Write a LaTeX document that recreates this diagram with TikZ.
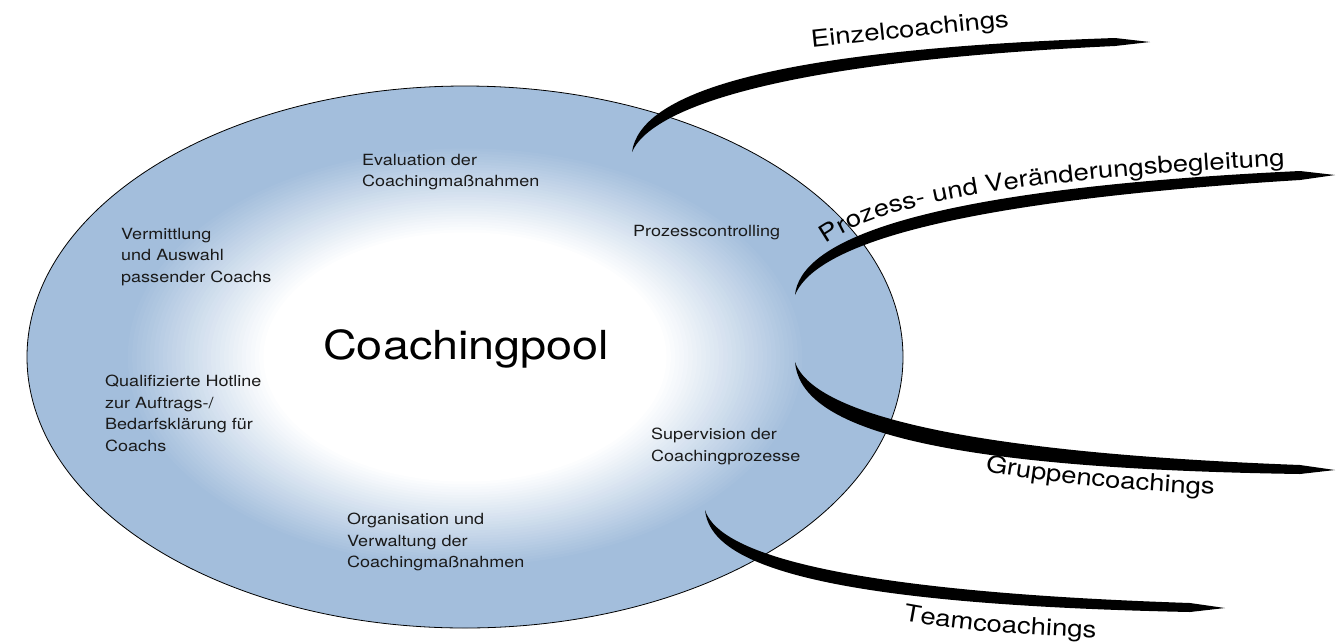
\documentclass[tikz,border=0pt]{standalone}
\usepackage{fontspec}
\usetikzlibrary{decorations.text}
\newfontfamily\hv[FakeStretch=1.17]{TeX Gyre Heros}
\definecolor{poolblue}{HTML}{A3BEDC}
\definecolor{txt}{HTML}{1A1A1A}
\tikzset{
  item/.style={anchor=north west, inner sep=0pt, align=left, text=txt, font=\hv\fontsize{15.4}{21.5}\selectfont},
  arm/.style={fill=black, draw=none},
  armlabel/.style={inner sep=0pt, text=black, font=\hv\fontsize{23.5}{28}\selectfont}
}
\begin{document}
\begin{tikzpicture}[x=1pt,y=-1pt]
\useasboundingbox (0,0) rectangle (1342,641);
% pool with soft radial fade
\fill[poolblue] (465,357) ellipse [x radius=438, y radius=271];
\foreach \i in {0,...,32}{
  \pgfmathsetmacro{\s}{0.78-\i*0.01}
  \pgfmathsetmacro{\p}{100-\i*100/32}
  \fill[poolblue!\p!white] (465,357) ellipse [x radius=438*\s, y radius=271*\s];
}
\draw[line width=0.8pt] (465,357) ellipse [x radius=438, y radius=271];
% arms
\fill[arm] (632,152) .. controls (640,95) and (760,50) .. (1115,38) -- (1150,42) -- (1115,46) .. controls (770,62) and (650,110) .. (632,152) -- cycle;
\fill[arm] (795,295) .. controls (800,245) and (900,190) .. (1300,171) -- (1335,175) -- (1300,180) .. controls (910,204) and (812,254) .. (795,295) -- cycle;
\fill[arm] (795,362) .. controls (808,400) and (900,450) .. (1300,465) -- (1335,470) -- (1300,474) .. controls (900,468) and (800,420) .. (795,362) -- cycle;
\fill[arm] (705,510) .. controls (716,545) and (800,590) .. (1190,603) -- (1225,608) -- (1190,612) .. controls (800,604) and (710,560) .. (705,510) -- cycle;
% arm labels
\node[armlabel, rotate=6] (einzel) at (910,31) {Einzelcoachings};
\path[decorate, decoration={text along path, text align=left, text={|\hv\fontsize{23.5}{28}\selectfont|Prozess- und Veränderungsbegleitung}}] (826,244) .. controls (880,205) and (1000,180) .. (1300,165);
\path[decorate, decoration={text along path, text align=left, text={|\hv\fontsize{23.5}{28}\selectfont|Gruppencoachings}}] (985,471) .. controls (1040,481) and (1120,491) .. (1225,495);
\path[decorate, decoration={text along path, text align=left, text={|\hv\fontsize{23.5}{28}\selectfont|Teamcoachings}}] (903,620) .. controls (950,629) and (1010,635) .. (1100,638);
% items
\node[item] (eval) at (362,154) {Evaluation der\\Coachingmaßnahmen};
\node[item] (verm) at (121,228) {Vermittlung\\und Auswahl\\passender Coachs};
\node[item] (proz) at (633,225) {Prozesscontrolling};
\node[item] (hotl) at (105,375) {Qualifizierte Hotline\\zur Auftrags-/\\Bedarfsklärung für\\Coachs};
\node[item] (orga) at (347,513) {Organisation und\\Verwaltung der\\Coachingmaßnahmen};
\node[item] (supv) at (651,428) {Supervision der\\Coachingprozesse};
\node[anchor=base west, inner sep=0pt, font=\hv\fontsize{40}{48}\selectfont] (pool) at (323,359) {Coachingpool};
\end{tikzpicture}
\end{document}
